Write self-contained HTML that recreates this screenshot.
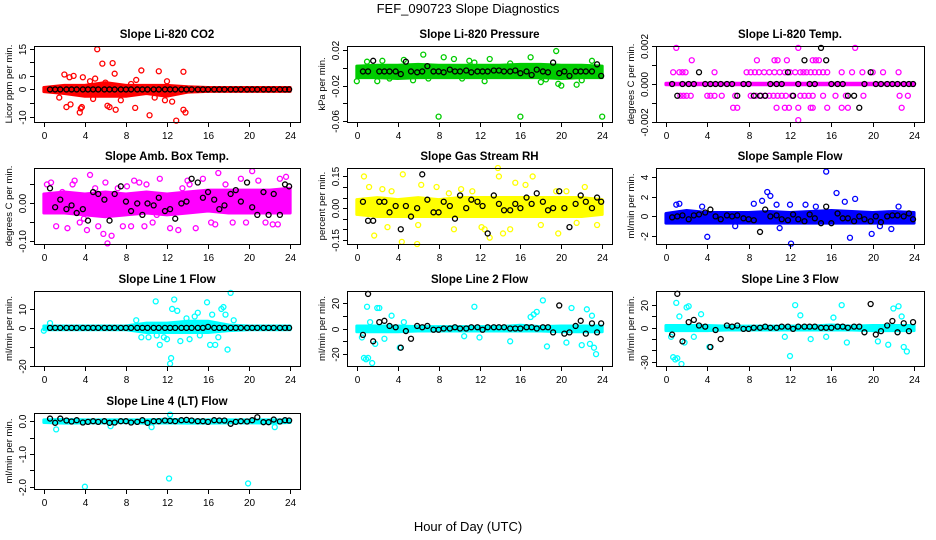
<!DOCTYPE html>
<html><head><meta charset="utf-8"><title>FEF_090723 Slope Diagnostics</title>
<style>
body{margin:0;background:#fff;}
svg{display:block;font-family:"Liberation Sans",sans-serif;}
</style></head>
<body>
<svg id="chart" width="936" height="540" viewBox="0 0 936 540" xmlns="http://www.w3.org/2000/svg">
<rect width="936" height="540" fill="#fff"/>
<text x="468" y="13" font-size="13" text-anchor="middle">FEF_090723  Slope Diagnostics</text>
<text x="468" y="531" font-size="13" text-anchor="middle">Hour of Day (UTC)</text>
</svg>
<script>
// ---- shared data ----
const xTicks = [0,4,8,12,16,20,24];
const blackHours = [0.6,1.1,1.6,2.2,2.7,3.2,3.8,4.3,4.8,5.3,5.9,6.4,6.9,7.5,8.0,8.5,9.1,9.6,10.1,10.7,11.2,11.8,12.3,12.8,13.4,13.9,14.4,15.0,15.5,16.0,16.6,17.1,17.6,18.2,18.7,19.2,19.8,20.3,20.8,21.4,21.9,22.4,23.0,23.5,23.9];
const bandHours = [0,2,4,6,8,10,12,14,16,18,20,22,24];

// ---- CO2 ----
const co2Ticks = [-10,-5,0,5,10,15];
const co2Labels = ["-10","","0","5","","15"];
const co2BandLo = [-0.8,-1.5,-2.5,-2.5,-2.5,-1.5,-2.5,-1,-0.7,-0.7,-0.7,-0.7,-0.7];
const co2BandHi = [0.7,1.5,1.5,2.5,1.5,1.5,1.5,1,0.7,0.7,0.7,0.7,0.7];
const co2OutH = [2.0,2.5,2.9,3.8,5.2,5.7,6.7,6.9,9.5,11.2,13.6,2.2,2.6,3.5,3.6,3.7,6.2,6.4,7.0,8.9,10.3,12.9,13.6,13.8,4.5,5.0,6.0,8.5,12.0,1.5,4.8,7.5,11.8,12.5,9.0,10.8];
const co2OutV = [5.5,4.5,5,4.5,14.8,9.5,9.7,5.8,7,6.7,6.5,-6.5,-5.5,-8.5,-7,-6.5,-6,-6.5,-7.5,-6.8,-9.5,-11.5,-7.5,-8.5,3,4,2.5,2,3,-3,-3.5,-4,-4,-4.5,3.5,-3];
const co2Black = [0,0,0,0,0,0,0,0,0,0,0,0,0,0,0,0,0,0,0,0,0,0,0,0,0,0,0,0,0,0,0,0,0,0,0,0,0,0,0,0,0,0,0,0,0];

// ---- Pressure ----
const prTicks = [-0.06,-0.04,-0.02,0,0.02];
const prLabels = ["-0.06","","-0.02","","0.02"];
const prBandLo = [-0.011,-0.011,-0.012,-0.011,-0.011,-0.011,-0.011,-0.011,-0.011,-0.011,-0.012,-0.011,-0.011];
const prBandHi = [0.002,0.003,0.003,0.004,0.003,0.003,0.003,0.003,0.004,0.004,0.003,0.003,0.002];
const prOutH = [0,1,2.5,3.2,4.6,6.5,8,8.5,9.5,10.3,11,13,14,15,16,17,19.5,19.7,20,21.5,23,24,2,5.5,12.5,18,22,7,11.5,18.5];
const prOutV = [-0.015,0.007,0.008,-0.012,0.009,0.015,-0.055,0.012,0.01,-0.012,0.008,0.01,-0.008,0.005,-0.055,0.012,0.019,-0.018,-0.02,-0.019,0.008,-0.055,-0.015,-0.014,-0.015,-0.016,-0.014,-0.012,0.006,-0.013];
const prBlack = [-0.004,-0.004,0.008,-0.004,-0.004,-0.004,-0.004,-0.007,0.007,-0.004,-0.005,-0.004,0.002,-0.004,-0.004,-0.005,-0.002,-0.004,-0.004,-0.003,-0.005,-0.004,-0.004,-0.004,-0.003,-0.003,-0.004,-0.004,-0.003,-0.006,-0.004,-0.008,-0.002,-0.004,-0.005,0.006,-0.006,-0.004,-0.009,-0.004,-0.004,-0.004,-0.004,0.004,-0.009];

// ---- Li-820 Temp ----
const tpTicks = [-0.002,-0.001,0,0.001,0.002];
const tpLabels = ["-0.002","","0.000","","0.002"];
const tpBandLo = [-0.00004,-0.00004,-0.00004,-0.00004,-0.00004,-0.00004,-0.00004,-0.00004,-0.00004,-0.00004,-0.00004,-0.00004,-0.00004];
const tpBandHi = [0.00004,0.00004,0.00004,0.00004,0.00004,0.00004,0.00004,0.00004,0.00004,0.00004,0.00004,0.00004,0.00004];
const tpOutH = [1.0,12.8,18.3, 2.5,8.8,10.5,10.8,11.7,14.2,14.5,14.8, 0.7,1.3,1.6,1.9,4.7,7.8,8.2,8.6,9.0,9.5,10.0,10.5,11.0,11.5,12.0,12.5,13.0,13.3,13.6,14.0,14.4,14.8,15.2,15.6,17.0,18.0,19.0,20.0,21.0,22.5, 1.4,1.7,2.0,2.4,4.0,4.3,4.7,5.4,6.7,8.2,8.7,9.2,9.6,10.0,10.4,10.8,11.2,11.6,12.2,13.0,13.4,13.8,14.2,15.2,16.4,17.4,19.1,22.6,23.4, 6.5,6.9,10.7,11.5,11.9,12.8,14.0,14.2,15.6,17.0,17.6,22.8, 12.8];
const tpOutV = [0.0019,0.0019,0.0019, 0.00125,0.00125,0.00125,0.00125,0.00125,0.00125,0.00125,0.00125, 0.00062,0.00062,0.00062,0.00062,0.00062,0.00062,0.00062,0.00062,0.00062,0.00062,0.00062,0.00062,0.00062,0.00062,0.00062,0.00062,0.00062,0.00062,0.00062,0.00062,0.00062,0.00062,0.00062,0.00062,0.00062,0.00062,0.00062,0.00062,0.00062,0.00062, -0.00062,-0.00062,-0.00062,-0.00062,-0.00062,-0.00062,-0.00062,-0.00062,-0.00062,-0.00062,-0.00062,-0.00062,-0.00062,-0.00062,-0.00062,-0.00062,-0.00062,-0.00062,-0.00062,-0.00062,-0.00062,-0.00062,-0.00062,-0.00062,-0.00062,-0.00062,-0.00062,-0.00062,-0.00062, -0.00125,-0.00125,-0.00125,-0.00125,-0.00125,-0.00125,-0.00125,-0.00125,-0.00125,-0.00125,-0.00125,-0.00125, -0.0019];
const tpBlack = [0,-0.00062,0,0,0,0.00062,0,0,0,0,0,0,-0.00062,0,0,-0.00062,-0.00062,-0.00062,0,0,0,0.00062,-0.00062,0,0.00125,0,0,0.0019,0.00125,0,0,0,-0.00062,-0.00062,-0.00125,0,0.00062,0,0,0,0,0,0,0,0];

// ---- Amb Box Temp ----
const abTicks = [-0.10,-0.05,0,0.05];
const abLabels = ["-0.10","","0.00",""];
const abBandLo = [-0.025,-0.025,-0.03,-0.035,-0.03,-0.025,-0.03,-0.025,-0.02,-0.025,-0.025,-0.025,-0.025];
const abBandHi = [0.025,0.03,0.025,0.03,0.025,0.03,0.025,0.03,0.035,0.035,0.035,0.035,0.04];
const abOutH = [0.3,0.7,1.2,1.8,2.3,3.0,3.5,4.2,4.5,5.3,5.8,6.0,6.2,6.6,7.2,7.7,8.1,8.5,9.3,10.0,10.6,11.3,12.3,13.1,14.0,14.8,15.5,16.3,17.0,17.7,18.4,19.2,20.3,20.9,21.6,22.3,23.0,23.6,2.8,5.0,9.8,13.5,16.7,19.7,22.8,1.0,3.9,8.8,11.0,14.2];
const abOutV = [0.05,0.055,-0.06,0.03,-0.065,0.06,-0.05,-0.07,0.075,-0.06,-0.08,0.055,-0.105,-0.085,0.04,-0.06,0.045,-0.06,0.055,0.05,-0.05,0.065,-0.065,-0.07,0.06,-0.065,0.065,-0.05,0.08,0.05,-0.05,0.065,0.085,0.06,-0.05,-0.055,0.065,0.07,0.05,0.04,-0.06,0.04,-0.055,-0.05,-0.055,0.02,-0.04,0.06,-0.03,0.05];
const abBlack = [0.04,-0.01,0.01,-0.015,-0.005,-0.025,-0.015,-0.045,0.03,0.025,0.01,-0.045,0.025,0.045,0.005,-0.02,0.0,-0.03,0.0,-0.005,0.015,-0.02,-0.015,-0.04,0.0,0.005,0.065,0.055,0.015,0.03,0.01,-0.015,-0.005,0.025,0.035,0.005,0.055,-0.01,-0.03,0.03,-0.03,0.025,-0.03,0.05,0.045];

// ---- Gas Stream RH ----
const rhTicks = [-0.15,-0.10,-0.05,0,0.05,0.10,0.15];
const rhLabels = ["-0.15","","","0.00","","","0.15"];
const rhBandLo = [-0.03,-0.04,-0.04,-0.04,-0.04,-0.04,-0.04,-0.04,-0.04,-0.04,-0.04,-0.04,-0.03];
const rhBandHi = [0.04,0.05,0.04,0.05,0.04,0.05,0.05,0.05,0.05,0.05,0.05,0.05,0.04];
const rhOutH = [0.7,1.7,2.5,3.4,4.5,4.4,5.9,6.3,7.8,9.5,10.2,11.3,12.5,13.0,13.8,13.9,14.3,15.5,16.5,17.2,18.0,19.7,20.5,22.3,23.5,1.2,3.0,6.0,9.0,12.2,15.0,19.5,21.5];
const rhOutV = [0.15,-0.13,0.09,0.08,0.16,-0.16,-0.17,0.11,0.1,-0.1,0.09,0.08,-0.1,-0.14,0.19,0.15,-0.12,0.12,0.11,0.15,-0.08,-0.12,0.08,0.1,-0.08,0.1,-0.09,-0.08,0.07,-0.09,-0.1,0.08,-0.07];
const rhBlack = [0.03,-0.06,-0.06,0.03,0.03,-0.02,0.01,-0.1,0.01,-0.04,0.0,0.16,0.04,-0.02,-0.02,0.03,0.01,-0.05,0.06,0.0,0.04,0.03,0.01,-0.12,0.06,0.02,-0.01,-0.01,0.02,0.0,0.05,0.02,0.07,0.03,-0.01,0.0,0.08,0.0,-0.09,0.02,0.06,0.03,0.0,0.05,0.03];

// ---- Sample Flow ----
const sfTicks = [-2,0,2,4];
const sfLabels = ["-2","0","2","4"];
const sfBandLo = [-0.7,-0.7,-0.7,-0.7,-0.7,-0.7,-0.7,-0.7,-0.7,-0.7,-0.7,-0.7,-0.7];
const sfBandHi = [0.3,0.6,0.4,0.4,0.4,0.5,0.4,0.5,0.6,0.5,0.4,0.5,0.4];
const sfOutH = [1.0,1.3,4.0,8.5,9.3,9.8,10.1,10.7,12.0,12.1,13.5,15.5,16.5,17.3,17.8,18.3,19.9,21.8,22.5,3.5,6.7,11.0,14.5,20.7];
const sfOutV = [1.2,1.3,-2.1,1.3,1.6,2.5,2.1,1.2,1.2,-2.8,1.2,4.6,2.4,1.5,-2.2,1.8,-1.8,-1.3,1.0,1.0,-1.0,-1.2,1.0,-1.0];
const sfBlack = [-0.1,0.0,0.1,-0.3,0.1,0.2,0.4,0.7,0.0,-0.3,0.1,0.0,0.1,-0.2,-0.3,-0.4,-1.6,0.7,0.0,0.1,-0.3,-0.4,0.2,-0.3,-0.5,0.2,-0.2,-0.7,1.0,-0.7,0.3,-0.2,-0.2,-0.5,0.0,-0.3,-0.5,0.0,-0.6,0.0,0.1,0.1,0.0,0.3,-0.3];

// ---- Line 1 Flow ----
const l1Ticks = [-20,-10,0,10];
const l1Labels = ["-20","","0","10"];
const l1BandLo = [-1,-1,-1,-1,-1,-2.5,-2.5,-2.5,-2.5,-1.5,-1,-1,-1];
const l1BandHi = [1,1,1,1,1,2.5,2.5,3.5,3.5,1.5,1,1,1];
const l1OutH = [0,0.6,9.0,9.5,10.2,10.9,11.3,11.7,12.0,12.3,12.4,12.7,13.0,13.3,13.9,14.2,14.7,15.2,15.9,16.2,16.4,16.7,17.0,17.3,17.5,17.9,18.2,18.5,11.0,12.5,15.0,17.7];
const l1OutV = [-1.5,2.5,4,-5,-5,14,-9,-5,-6,-19,-16,15,9,-7,5,-6,6,-4,13.5,-9,7,-9,-5,10,11,-11.5,18.5,4,-4,10,8,7];
const l1Black = [0,0,0,0,0,0,0,0,0,0,0,0,0,0,0,0,0,0,0,0,0,0,0,0,0,0,0,0,0,0.5,0,0,0,0,0,0,0,0,0,0,0,0,0,0,0];

// ---- Line 2 Flow ----
const l2Ticks = [-20,-10,0,10,20];
const l2Labels = ["-20","","0","","20"];
const l2BandLo = [-2.5,-2.5,-2.5,-2,-2,-2,-2,-2,-2,-2,-2.5,-2.5,-2.5];
const l2BandHi = [2,2,2,1.5,1.5,1.5,1.5,1.5,2.5,1.5,2,2,2];
const l2OutH = [0.5,0.7,0.9,1.0,1.1,1.3,1.5,1.8,2.0,2.2,2.7,3.4,4.2,4.6,10.5,11.5,17.0,17.3,17.6,18.2,18.6,20.5,21.0,22.0,22.5,22.8,23.0,23.2,23.4,12.0,15.0];
const l2OutV = [-7,-23,-24,17,-23,5,-27,-12,16,16,-8,10,-15,5,-6,17,9,11,13,22,-14,-11,16,-13,15,-12,10,-15,-20,-7,-10];
const l2Black = [-5,27,-10,5,6,2,1,-15,-2,-8,2,1,2,-1,-1,0,0,1,0,0,1,1,-1,1,1,1,1,0,0,0,1,1,0,1,1,-3,18,-4,-3,2,6,-4,4,-3,4];

// ---- Line 3 Flow ----
const l3Ticks = [-30,-20,-10,0,10,20];
const l3Labels = ["-30","","","0","","20"];
const l3BandLo = [-2.5,-2.5,-2.5,-2,-2,-2,-2,-2,-2,-2,-2.5,-2.5,-2.5];
const l3BandHi = [2,2,2,1.5,1.5,1.5,1.5,1.5,2.5,1.5,2,2,2];
const l3OutH = [0.5,0.7,0.9,1.0,1.1,1.3,1.5,1.8,2.0,2.2,2.7,3.4,4.2,12.0,12.5,13.0,14.0,15.5,17.0,17.5,20.5,21.5,22.0,22.5,22.8,23.0,23.3,11.5,16.2];
const l3OutV = [-8,-26,-28,22,-27,10,-32,-13,18,19,-8,12,-17,-25,20,11,-10,-8,20,-13,-12,-15,17,19,10,-17,-21,-8,9];
const l3Black = [-6,30,-12,5,7,2,1,-17,-2,-10,2,1,2,-1,-1,0,0,1,0,0,1,1,-1,1,1,1,1,0,0,0,1,1,0,1,1,-4,21,-6,-3,2,6,-4,4,-3,5];

// ---- Line 4 Flow ----
const l4Ticks = [-2.0,-1.5,-1.0,-0.5,0.0];
const l4Labels = ["-2.0","","-1.0","","0.0"];
const l4BandLo = [-0.04,-0.06,-0.05,-0.05,-0.04,-0.06,-0.05,-0.06,-0.06,-0.05,-0.05,-0.06,-0.04];
const l4BandHi = [0.04,0.05,0.04,0.04,0.04,0.04,0.06,0.04,0.04,0.04,0.04,0.04,0.04];
const l4OutH = [4.0,12.2,19.9,1.2,10.5,12.3,22.5,6.5];
const l4OutV = [-2.0,-1.75,-1.9,-0.25,-0.18,0.2,-0.18,-0.15];
const l4Black = [0.08,-0.05,0.08,0.02,-0.01,0.03,-0.04,-0.02,0.0,-0.02,0.0,-0.05,-0.04,0.0,0.0,-0.04,-0.02,0.03,-0.05,0.0,0.0,0.02,0.01,0.0,0.03,0.04,0.02,0.0,0.0,-0.02,0.03,0.02,0.02,-0.08,-0.02,0.0,-0.01,0.03,0.12,-0.03,-0.03,0.05,-0.01,0.03,0.02];

// ---- layout (geometry, not data) ----
const panels = [
 {name:"co2",title:"Slope Li-820 CO2",yt:"Licor ppm per min.",col:"#ff0000",x0:34,x1:300,y0:46,y1:122,ymin:-12,ymax:16,ticks:co2Ticks,labels:co2Labels,lo:co2BandLo,hi:co2BandHi,oh:co2OutH,ov:co2OutV,bk:co2Black},
 {name:"pressure",title:"Slope Li-820 Pressure",yt:"kPa per min.",col:"#00cc00",x0:347,x1:612,y0:46,y1:122,ymin:-0.0611,ymax:0.0247,ticks:prTicks,labels:prLabels,lo:prBandLo,hi:prBandHi,oh:prOutH,ov:prOutV,bk:prBlack},
 {name:"li820-temp",title:"Slope Li-820 Temp.",yt:"degrees C per min.",col:"#ff00ff",x0:656,x1:924,y0:46,y1:122,ymin:-0.002,ymax:0.002,ticks:tpTicks,labels:tpLabels,lo:tpBandLo,hi:tpBandHi,oh:tpOutH,ov:tpOutV,bk:tpBlack},
 {name:"amb-box-temp",title:"Slope Amb. Box Temp.",yt:"degrees C per min.",col:"#ff00ff",x0:34,x1:300,y0:168,y1:244,ymin:-0.1066,ymax:0.0932,ticks:abTicks,labels:abLabels,lo:abBandLo,hi:abBandHi,oh:abOutH,ov:abOutV,bk:abBlack},
 {name:"gas-stream-rh",title:"Slope Gas Stream RH",yt:"percent per min.",col:"#ffff00",x0:347,x1:612,y0:168,y1:244,ymin:-0.17,ymax:0.19,ticks:rhTicks,labels:rhLabels,lo:rhBandLo,hi:rhBandHi,oh:rhOutH,ov:rhOutV,bk:rhBlack},
 {name:"sample-flow",title:"Slope Sample Flow",yt:"ml/min per min.",col:"#0000ff",x0:656,x1:924,y0:168,y1:244,ymin:-2.84,ymax:4.97,ticks:sfTicks,labels:sfLabels,lo:sfBandLo,hi:sfBandHi,oh:sfOutH,ov:sfOutV,bk:sfBlack},
 {name:"line1-flow",title:"Slope Line 1 Flow",yt:"ml/min per min.",col:"#00ffff",x0:34,x1:300,y0:291,y1:366,ymin:-20.2,ymax:19.5,ticks:l1Ticks,labels:l1Labels,lo:l1BandLo,hi:l1BandHi,oh:l1OutH,ov:l1OutV,bk:l1Black},
 {name:"line2-flow",title:"Slope Line 2 Flow",yt:"ml/min per min.",col:"#00ffff",x0:347,x1:612,y0:291,y1:366,ymin:-29.3,ymax:29.3,ticks:l2Ticks,labels:l2Labels,lo:l2BandLo,hi:l2BandHi,oh:l2OutH,ov:l2OutV,bk:l2Black},
 {name:"line3-flow",title:"Slope Line 3 Flow",yt:"ml/min per min.",col:"#00ffff",x0:656,x1:924,y0:291,y1:366,ymin:-33.8,ymax:32.5,ticks:l3Ticks,labels:l3Labels,lo:l3BandLo,hi:l3BandHi,oh:l3OutH,ov:l3OutV,bk:l3Black},
 {name:"line4-flow",title:"Slope Line 4 (LT) Flow",yt:"ml/min per min.",col:"#00ffff",x0:34,x1:300,y0:413,y1:489,ymin:-2.07,ymax:0.25,ticks:l4Ticks,labels:l4Labels,lo:l4BandLo,hi:l4BandHi,oh:l4OutH,ov:l4OutV,bk:l4Black}
];

const svg = document.getElementById('chart');
const NS = "http://www.w3.org/2000/svg";
function mk(tag, attrs, parent){
  const e = document.createElementNS(NS, tag);
  for (const k in attrs) e.setAttribute(k, attrs[k]);
  parent.appendChild(e);
  return e;
}
panels.forEach(p => {
  const g = mk('g', {}, svg);
  
  
  const w = p.x1 - p.x0, h = p.y1 - p.y0;
  const xs = v => p.x0 + (v + 0.96) / 25.92 * w;
  const ys = v => p.y1 - (v - p.ymin) / (p.ymax - p.ymin) * h;
  let pts = [];
  bandHours.forEach((hh, i) => pts.push(xs(hh) + ',' + ys(p.hi[i])));
  for (let i = bandHours.length - 1; i >= 0; i--) pts.push(xs(bandHours[i]) + ',' + ys(p.lo[i]));
  const band = mk('polygon', {points: pts.join(' '), fill: p.col, stroke: p.col, 'stroke-width': 3, 'stroke-linejoin': 'round'}, g);
  
  
  p.oh.forEach((hh, i) => {
    const c = mk('circle', {cx: xs(hh), cy: ys(p.ov[i]), r: 2.5, fill: 'none', stroke: p.col, 'stroke-width': 1.3}, g);
    
    
  });
  blackHours.forEach((hh, i) => {
    const c = mk('circle', {cx: xs(hh), cy: ys(p.bk[i]), r: 2.5, fill: 'none', stroke: '#000', 'stroke-width': 1.3}, g);
    
    
  });
  const box = mk('rect', {x: p.x0 + 0.5, y: p.y0 + 0.5, width: w, height: h, fill: 'none', stroke: '#000', 'stroke-width': 1}, g);
  
  
  const t = mk('text', {x: (p.x0 + p.x1) / 2, y: p.y0 - 8, 'font-size': 11.5, 'font-weight': 'bold', 'text-anchor': 'middle'}, g);
  t.textContent = p.title;
  
  
  xTicks.forEach(v => {
    const x = Math.round(xs(v)) + 0.5;
    mk('line', {x1: x, x2: x, y1: p.y1 + 1, y2: p.y1 + 5, stroke: '#000'}, g);
    const tl = mk('text', {x: x, y: p.y1 + 17, 'font-size': 10, 'text-anchor': 'middle'}, g);
    tl.textContent = v;
    
    
  });
  p.ticks.forEach((v, i) => {
    const y = Math.round(ys(v)) + 0.5;
    mk('line', {x1: p.x0 - 4, x2: p.x0, y1: y, y2: y, stroke: '#000'}, g);
    if (p.labels[i]) {
      const tl = mk('text', {x: 0, y: 0, 'font-size': 10, 'text-anchor': 'middle', transform: 'translate(' + (p.x0 - 8) + ',' + y + ') rotate(-90)'}, g);
      tl.textContent = p.labels[i];
      
      
    }
  });
  const yt = mk('text', {x: 0, y: 0, 'font-size': 9.5, 'text-anchor': 'middle', transform: 'translate(' + (p.x0 - 22) + ',' + ((p.y0 + p.y1) / 2) + ') rotate(-90)'}, g);
  yt.textContent = p.yt;
  
  
});
</script>
</body></html>
